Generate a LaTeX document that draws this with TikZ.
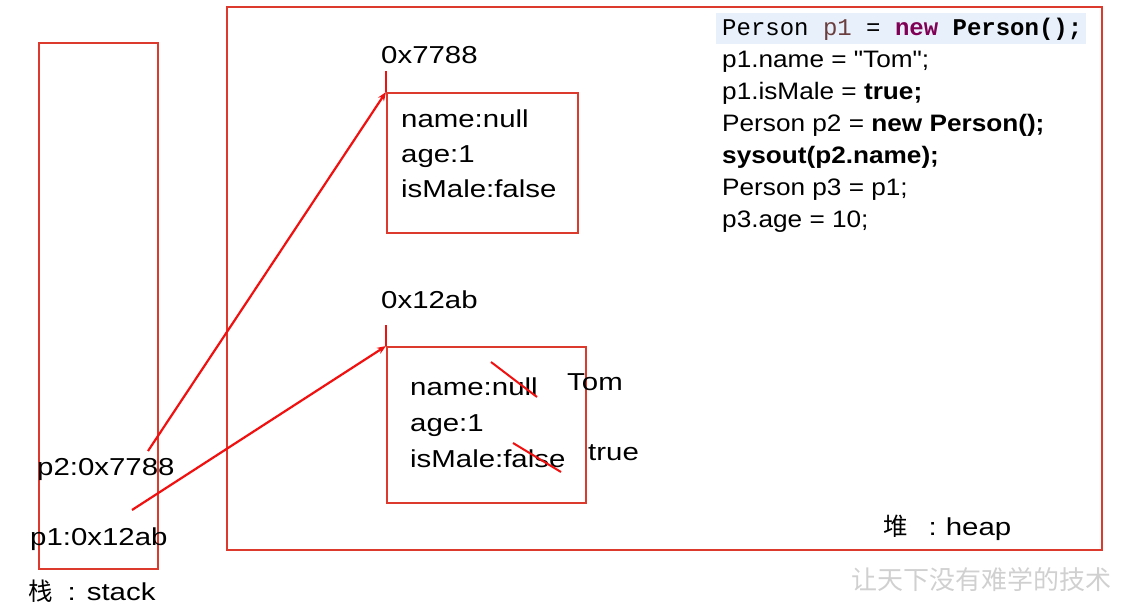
\documentclass[tikz,border=0pt]{standalone}
\usepackage{fontspec}
\setmainfont[FakeStretch=1.2]{Liberation Sans}
\newfontfamily\codefont[FakeStretch=1.1]{Liberation Sans}
\newfontfamily\codemono{Liberation Mono}
\newfontfamily\cjkfont{Noto Sans CJK SC}
\usetikzlibrary{calc,arrows.meta}
\definecolor{memred}{HTML}{DD3A2E}
\definecolor{linkred}{HTML}{F01010}
\definecolor{hlblue}{HTML}{E8F0FB}
\definecolor{kwpurple}{HTML}{7F0055}
\definecolor{varbrown}{HTML}{6A3E3E}
\definecolor{wmgray}{HTML}{D0D0D0}

\begin{document}
\begin{tikzpicture}[x=1pt,y=-1pt,
  area/.style={draw=memred, line width=1.6pt, anchor=north west, inner sep=0pt},
  txt/.style={anchor=base west, inner sep=0pt, font=\fontsize{24.5}{30}\selectfont},
  code/.style={anchor=base west, inner sep=0pt, font=\codefont\fontsize{23.8}{30}\selectfont},
  ref/.style={draw=linkred, line width=2.2pt, -{Stealth[length=9pt,width=7pt]}},
  tick/.style={draw=linkred, line width=2.2pt},
  strike/.style={draw=linkred, line width=2pt},
]
\useasboundingbox (0,0) rectangle (1125,605);

% stack and heap regions
\node[area, minimum width=119, minimum height=526] (stack) at (38,42) {};
\node[area, minimum width=875, minimum height=543] (heap) at (226,6) {};

% objects on the heap
\node[area, minimum width=191, minimum height=140] (box1) at (386,92) {};
\node[area, minimum width=199, minimum height=156] (box2) at (386,346) {};
\draw[tick] (box1.north west) -- ++(0,-21);
\draw[tick] (box2.north west) -- ++(0,-21);
\node[txt] (addr1) at (381,63) {0x7788};
\node[txt] (addr2) at (381,308) {0x12ab};

\node[txt] (b1name) at (401,127) {name:null};
\node[txt] (b1age)  at (401,162) {age:1};
\node[txt] (b1male) at (401,197) {isMale:false};

\node[txt] (b2name) at (410,395) {name:null};
\node[txt] (b2age)  at (410,431) {age:1};
\node[txt] (b2male) at (410,467) {isMale:false};
\node[txt] (tom)  at (567,390) {Tom};
\node[txt] (true) at (588,460) {true};
\draw[strike] ($(b2name.base west)+(81,-33)$) -- ++(46,35);
\draw[strike] ($(b2male.base west)+(103,-24)$) -- ++(48,29);

% references held on the stack
\node[txt] (p2) at (37,475) {p2:0x7788};
\node[txt] (p1) at (30,545) {p1:0x12ab};
\draw[ref] ($(p2.base west)+(111,-24)$) -- (box1.north west);
\draw[ref] ($(p1.base west)+(102,-35)$) -- (box2.north west);

% region captions
\node[txt] (stacklab) at (28,600) {{\cjkfont 栈}\hspace{15pt}:\hspace{11pt}stack};
\node[txt] (heaplab) at (883,535) {{\cjkfont 堆}\hspace{21pt}:\hspace{9pt}heap};
\node[anchor=base west, inner sep=0pt, text=wmgray, font=\cjkfont\fontsize{26}{30}\selectfont] (motto) at (851,589) {让天下没有难学的技术};

% source code
\fill[hlblue] (716,13) rectangle (1086,44);
\node[anchor=base west, inner sep=0pt, font=\codemono\fontsize{24}{30}\selectfont] (c1) at (722,35)
  {Person \textcolor{varbrown}{p1} = \textbf{\textcolor{kwpurple}{new}} \textbf{Person();}};
\node[code] (c2) at (722,67)  {p1.name = "Tom";};
\node[code] (c3) at (722,99)  {p1.isMale = \textbf{true;}};
\node[code] (c4) at (722,131) {Person p2 = \textbf{new Person();}};
\node[code] (c5) at (722,163) {\textbf{sysout(p2.name);}};
\node[code] (c6) at (722,195) {Person p3 = p1;};
\node[code] (c7) at (722,227) {p3.age = 10;};
\end{tikzpicture}
\end{document}
